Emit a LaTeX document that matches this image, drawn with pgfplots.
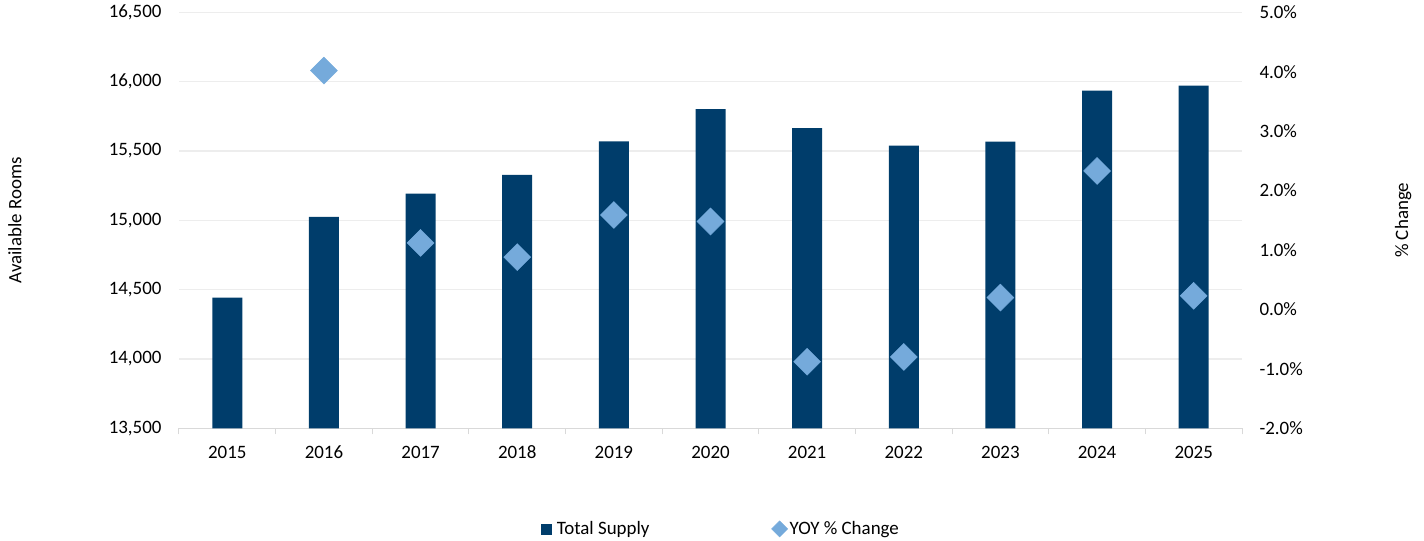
\documentclass[border=0pt]{standalone}
\usepackage{pgfplots}
\pgfplotsset{compat=1.18}
\usepackage{fontspec}
\setmainfont{Carlito}
\definecolor{barc}{HTML}{003D6B}
\definecolor{dia}{HTML}{75AADB}
\definecolor{gridc}{HTML}{EDEDED}
\definecolor{axc}{HTML}{D9D9D9}
\pgfdeclareplotmark{rdiamond}{%
  \pgfsetcornersarced{\pgfpoint{5bp}{5bp}}%
  \pgfpathmoveto{\pgfqpoint{6.75bp}{6.75bp}}%
  \pgfpathlineto{\pgfqpoint{13.5bp}{0bp}}%
  \pgfpathlineto{\pgfqpoint{0bp}{-13.5bp}}%
  \pgfpathlineto{\pgfqpoint{-13.5bp}{0bp}}%
  \pgfpathlineto{\pgfqpoint{0bp}{13.5bp}}%
  \pgfpathclose
  \pgfusepathqfillstroke}
\begin{document}
\begin{tikzpicture}[font=\fontsize{19}{23}\selectfont]
\path[use as bounding box] (-179bp,-112.7bp) rectangle (1245bp,428.3bp);
\begin{axis}[
  scale only axis, width=1063bp, height=416bp,
  at={(0,0)}, anchor=south west,
  xmin=-0.5, xmax=10.5, ymin=13500, ymax=16500,
  axis y line*=left, axis x line*=bottom,
  y axis line style={draw=none},
  x axis line style={draw=axc, line width=1bp},
  xtick={0,...,10},
  xticklabels={2015,2016,2017,2018,2019,2020,2021,2022,2023,2024,2025},
  minor xtick={-0.5,0.5,...,10.5},
  tick align=outside,
  major tick length=0pt,
  minor tick length=6bp,
  minor tick style={draw=axc, line width=1bp},
  xticklabel style={yshift=-18bp, text height=9bp, text depth=0bp},
  ytick={13500,14000,...,16500},
  scaled y ticks=false,
  ytick style={draw=none},
  yticklabel style={xshift=-14bp, /pgf/number format/1000 sep={,}},
  /pgf/number format/assume math mode=true,
  ymajorgrids, major grid style={draw=gridc, line width=1.2bp},
  ylabel={Available Rooms},
  ylabel style={at={(axis description cs:-0.1543,0.5)}, anchor=center},
  ybar, bar width=30bp,
]
\addplot[fill=barc, draw=none] coordinates {
(0,14442) (1,15024) (2,15192) (3,15327) (4,15570) (5,15801)
(6,15664) (7,15538) (8,15567) (9,15935) (10,15971)};
\end{axis}
\begin{axis}[
  scale only axis, width=1063bp, height=416bp,
  at={(0,0)}, anchor=south west,
  xmin=-0.5, xmax=10.5, ymin=-2, ymax=5,
  axis y line*=right, axis x line=none,
  y axis line style={draw=none},
  ytick={-2,...,5}, ytick style={draw=none},
  yticklabel={\pgfmathprintnumber[fixed,fixed zerofill,precision=1]{\tick}\%},
  yticklabel style={xshift=14bp},
  /pgf/number format/assume math mode=true,
  ylabel={\% Change},
  ylabel style={at={(axis description cs:1.1515,0.5)}, anchor=center},
  legend style={at={(0.51,-0.242)}, anchor=center, draw=none, fill=none,
    legend columns=2, font=\fontsize{19}{23}\selectfont,
    /tikz/every even column/.append style={column sep=120bp}},
]
\addlegendimage{legend image code/.code={\fill[barc] (0bp,-5bp) rectangle (10bp,5bp); \path (13bp,0bp);}}
\addlegendentry{Total Supply}
\addplot[only marks, mark=rdiamond,
  mark options={fill=dia, draw=dia},
  legend image code/.code={\draw[mark=rdiamond, mark options={scale=0.6, fill=dia, draw=dia}] plot coordinates {(8bp,0bp)};}] coordinates {
(1,4.02) (2,1.12) (3,0.88) (4,1.59) (5,1.48) (6,-0.88) (7,-0.80)
(8,0.20) (9,2.33) (10,0.23)};
\addlegendentry{YOY \% Change}
\end{axis}
\end{tikzpicture}
\end{document}
